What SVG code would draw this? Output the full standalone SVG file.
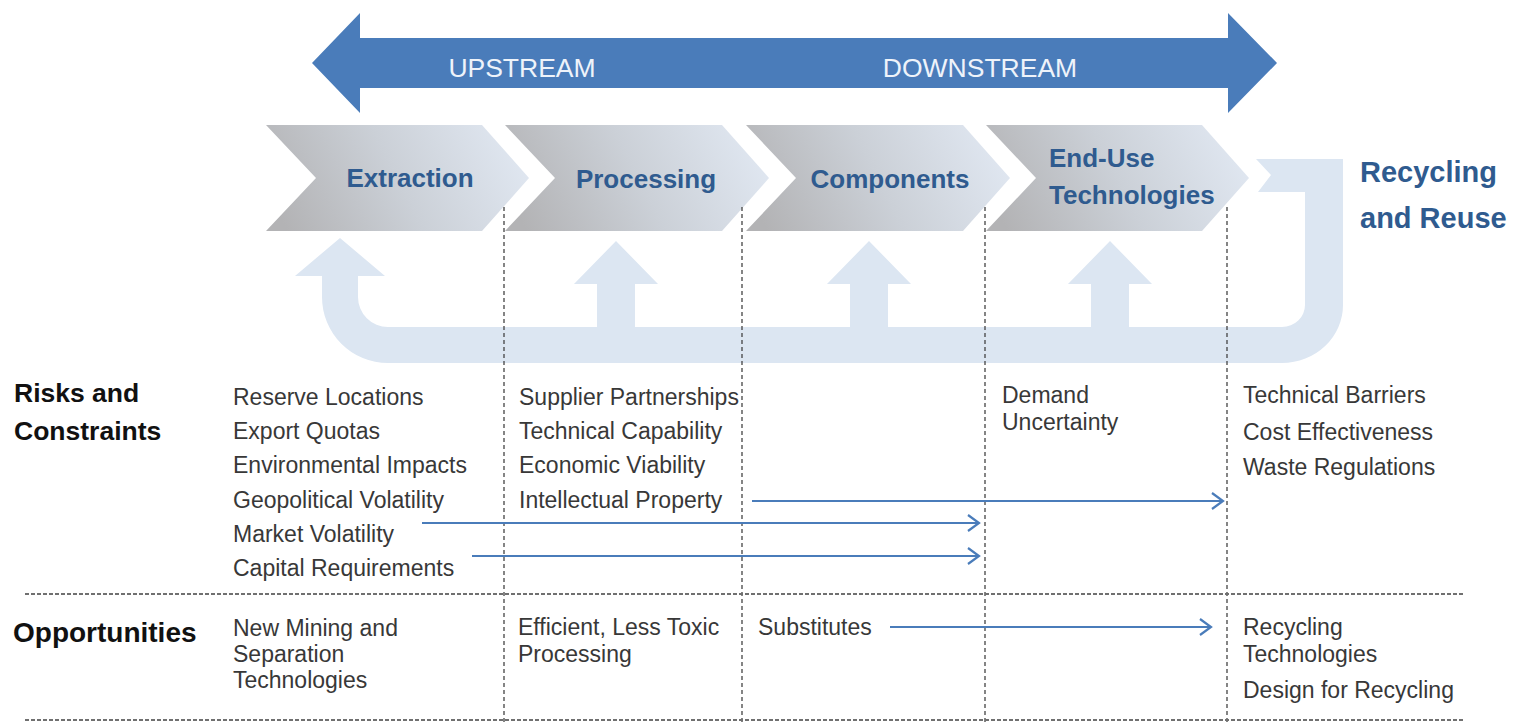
<svg xmlns="http://www.w3.org/2000/svg" width="1515" height="728" viewBox="0 0 1515 728">
<defs>
<linearGradient id="chev" x1="0" y1="0.6" x2="1" y2="0.4">
<stop offset="0" stop-color="#b3b3b5"/>
<stop offset="0.5" stop-color="#cbd0d7"/>
<stop offset="1" stop-color="#e0e7f1"/>
</linearGradient>
<marker id="ah" markerUnits="userSpaceOnUse" markerWidth="16" markerHeight="20" refX="13" refY="10" orient="auto">
<path d="M2,2 L13,10 L2,18" fill="none" stroke="#4a7cba" stroke-width="2.2"/>
</marker>
<style>
.t{font-family:"Liberation Sans",Arial,sans-serif;font-size:23px;fill:#383838}
.h{font-family:"Liberation Sans",Arial,sans-serif;font-size:26.5px;font-weight:bold;fill:#111}
.c{font-family:"Liberation Sans",Arial,sans-serif;font-size:26px;font-weight:bold;fill:#2f5b8f}
.w{font-family:"Liberation Sans",Arial,sans-serif;font-size:26.5px;fill:#eef3fa}
.chev{fill:url(#chev)}
.vd{stroke:#444;stroke-width:1.3;stroke-dasharray:4 3;fill:none}
.hd{stroke:#707070;stroke-width:1.8;stroke-dasharray:4 2;fill:none}
.ar{stroke:#4a7cba;stroke-width:2.2;fill:none;marker-end:url(#ah)}
</style>
</defs>
<rect width="1515" height="728" fill="#ffffff"/>

<g id="stream-arrow">
<polygon points="312,63 360,13 360,38 1228,38 1228,13 1277,63 1228,113 1228,88 360,88 360,113" fill="#4a7cba"/>
<text class="w" x="522" y="77" text-anchor="middle">UPSTREAM</text>
<text class="w" x="980" y="77" text-anchor="middle">DOWNSTREAM</text>
</g>

<g id="return-loop">
<path d="M340,238 L385,276 L358,276 L358,297 A30,30 0 0 0 388,327 L597,327 L597,284 L574,284 L616,241 L658,284 L635,284 L635,327 L850,327 L850,284 L827,284 L869,241 L911,284 L888,284 L888,327 L1091,327 L1091,284 L1068,284 L1110,241 L1152,284 L1129,284 L1129,327 L1282,327 A23,22 0 0 0 1305,305 L1305,192 L1258,192 L1271,175 L1256,159 L1343,159 L1343,305 A61,58 0 0 1 1282,363 L388,363 A66,66 0 0 1 322,297 L322,276 L295,276 Z" fill="#dce6f2"/>
</g>

<g id="extraction">
<polygon class="chev" points="266,125 482,125 529,178 482,231 266,231 316,178"/>
<text class="c" x="410" y="187" text-anchor="middle">Extraction</text>
</g>
<g id="processing">
<polygon class="chev" points="505,125 722,125 769,178 722,231 505,231 555,178"/>
<text class="c" x="646" y="188" text-anchor="middle">Processing</text>
</g>
<g id="components">
<polygon class="chev" points="746,125 963,125 1010,178 963,231 746,231 796,178"/>
<text class="c" x="890" y="188" text-anchor="middle">Components</text>
</g>
<g id="end-use">
<polygon class="chev" points="986,125 1202,125 1249,178 1202,231 986,231 1036,178"/>
<text class="c" x="1049" y="167">End-Use</text>
<text class="c" x="1049" y="204">Technologies</text>
</g>
<g id="recycling">
<text class="c" x="1360" y="182" style="font-size:29px">Recycling</text>
<text class="c" x="1360" y="228" style="font-size:29px">and Reuse</text>
</g>

<g id="grid">
<line class="vd" x1="504" y1="207" x2="504" y2="725"/>
<line class="vd" x1="742" y1="207" x2="742" y2="725"/>
<line class="vd" x1="985" y1="207" x2="985" y2="725"/>
<line class="vd" x1="1227" y1="207" x2="1227" y2="725"/>
<line class="hd" x1="25" y1="594" x2="1465" y2="594"/>
<line class="hd" x1="25" y1="720" x2="1465" y2="720"/>
</g>

<g id="risks-label">
<text class="h" x="14" y="402">Risks and</text>
<text class="h" x="14" y="440">Constraints</text>
</g>
<g id="opportunities-label">
<text class="h" x="13" y="642" style="font-size:28px">Opportunities</text>
</g>

<g id="risks-extraction">
<text class="t" x="233" y="405">Reserve Locations</text>
<text class="t" x="233" y="439">Export Quotas</text>
<text class="t" x="233" y="473">Environmental Impacts</text>
<text class="t" x="233" y="508">Geopolitical Volatility</text>
<text class="t" x="233" y="542">Market Volatility</text>
<text class="t" x="233" y="576">Capital Requirements</text>
</g>
<g id="risks-processing">
<text class="t" x="519" y="405">Supplier Partnerships</text>
<text class="t" x="519" y="439">Technical Capability</text>
<text class="t" x="519" y="473">Economic Viability</text>
<text class="t" x="519" y="508">Intellectual Property</text>
</g>
<g id="risks-enduse">
<text class="t" x="1002" y="403">Demand</text>
<text class="t" x="1002" y="430">Uncertainty</text>
</g>
<g id="risks-recycling">
<text class="t" x="1243" y="403">Technical Barriers</text>
<text class="t" x="1243" y="440">Cost Effectiveness</text>
<text class="t" x="1243" y="475">Waste Regulations</text>
</g>

<g id="opp-extraction">
<text class="t" x="233" y="636">New Mining and</text>
<text class="t" x="233" y="662">Separation</text>
<text class="t" x="233" y="688">Technologies</text>
</g>
<g id="opp-processing">
<text class="t" x="518" y="635">Efficient, Less Toxic</text>
<text class="t" x="518" y="662">Processing</text>
</g>
<g id="opp-components">
<text class="t" x="758" y="635">Substitutes</text>
</g>
<g id="opp-recycling">
<text class="t" x="1243" y="635">Recycling</text>
<text class="t" x="1243" y="662">Technologies</text>
<text class="t" x="1243" y="698">Design for Recycling</text>
</g>

<g id="connectors">
<line class="ar" x1="752" y1="501" x2="1223" y2="501"/>
<line class="ar" x1="422" y1="523" x2="979" y2="523"/>
<line class="ar" x1="472" y1="556" x2="979" y2="556"/>
<line class="ar" x1="890" y1="627" x2="1211" y2="627"/>
</g>
</svg>
